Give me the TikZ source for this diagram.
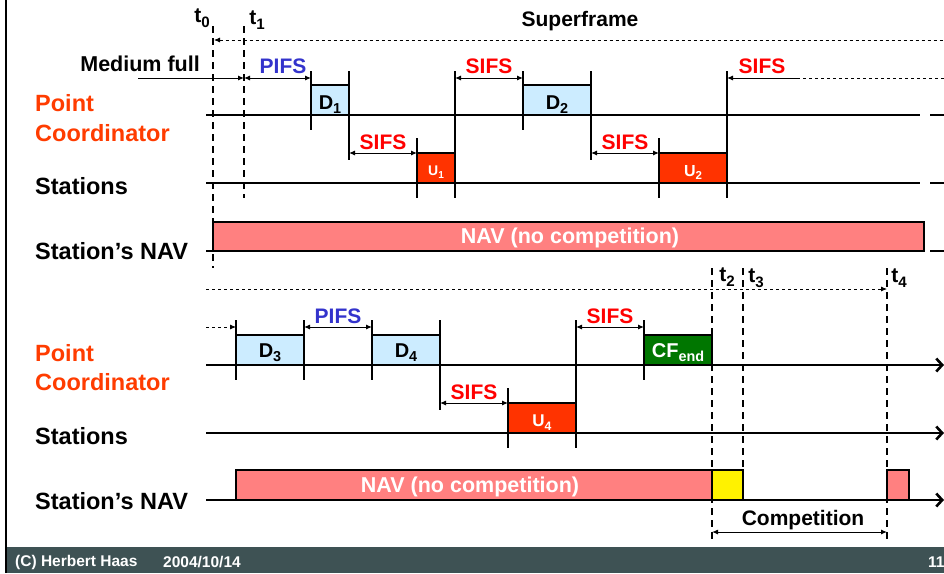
\documentclass[tikz,border=0pt]{standalone}
\usepackage{fontspec}
\setmainfont{Liberation Sans}
\usetikzlibrary{arrows.meta}
\makeatletter
\newcommand\sbx[1]{\raisebox{-0.24em}{\fontsize{\fpeval{0.72*\f@size}}{1}\selectfont #1}}
\makeatother
\definecolor{pcred}{RGB}{255,60,0}
\definecolor{sifsred}{RGB}{255,0,0}
\definecolor{pifsblue}{RGB}{51,51,204}
\definecolor{dbox}{RGB}{204,236,255}
\definecolor{ubox}{RGB}{255,51,0}
\definecolor{navpink}{RGB}{255,128,128}
\definecolor{cfgreen}{RGB}{0,118,0}
\definecolor{footbg}{RGB}{62,82,84}
\tikzset{
  tl/.style={line width=2.8pt},
  tick/.style={line width=1.3pt},
  dim/.style={line width=1pt,{Latex[length=6pt,width=5pt]}-{Latex[length=6pt,width=5pt]}},
  dimr/.style={line width=1pt,-{Latex[length=6pt,width=5pt]}},
  diml/.style={line width=1pt,{Latex[length=6pt,width=5pt]}-},
  vdash/.style={line width=1.7pt,dash pattern=on 7pt off 5pt},
  dotl/.style={line width=0.8pt,dash pattern=on 3pt off 3pt},
  lab/.style={font=\fontsize{23.5}{26}\selectfont\bfseries,anchor=west,inner sep=0pt},
  mlab/.style={font=\fontsize{21}{24}\selectfont\bfseries,inner sep=0pt},
  frame/.style={draw=black,line width=1.4pt,inner sep=0pt,outer sep=0pt,anchor=south west},
  blab/.style={font=\fontsize{20}{24}\selectfont\bfseries,inner sep=0pt,anchor=base},
  foot/.style={font=\fontsize{15.5}{17}\selectfont\bfseries,text=white,anchor=west,inner sep=0pt},
  endarr/.style={tl,-{Straight Barb[length=6pt,width=13pt,line width=2.6pt]}},
}
\begin{document}
\begin{tikzpicture}[x=1pt,y=-1pt]
\useasboundingbox (0,0) rectangle (944,573);
\fill[white] (0,0) rectangle (944,573);
% footer
\fill[footbg] (7,547) rectangle (944,573);
\draw[line width=2pt] (6,0) -- (6,573);
\node[foot] (copy) at (15,562) {(C) Herbert Haas};
\node[foot] (date) at (163,562) {2004/10/14};
\node[foot] (pg) at (928,562) {11};

% ===== TOP SECTION =====
\node[lab,text=pcred] (pc1a) at (35,103) {Point};
\node[lab,text=pcred] (pc1b) at (35,133) {Coordinator};
\node[lab] (st1) at (35,186) {Stations};
\node[lab] (nav1l) at (35,251) {Station’s NAV};

% time marks
\node[mlab] (t0) at (202,18) {t\sbx{0}};
\node[mlab] (t1) at (257,20) {t\sbx{1}};
\node[mlab] (sf) at (580,21) {Superframe};
\coordinate (t0top) at (213,26);
\coordinate (t0bot) at (213,268);
\coordinate (t1top) at (244,26);
\coordinate (t1bot) at (244,198);
\draw[vdash] (t0top) -- (t0bot);
\draw[vdash] (t1top) -- (t1bot);
\coordinate (sfl) at (214,40);
\coordinate (sfr) at (944,40);
\draw[dotl,{Latex[length=6pt,width=5pt]}-] (sfl) -- (sfr);

% medium full / PIFS
\node[font=\fontsize{21.5}{24}\selectfont\bfseries,anchor=east,inner sep=0pt] (mf) at (200,64) {Medium full};
\coordinate (mfs) at (138,78);
\coordinate (pifsA) at (244,78);
\coordinate (pifsB) at (311,78);
\draw[dimr] (mfs) -- (pifsA);
\draw[dim] (pifsA) -- (pifsB);
\node[mlab,text=pifsblue] (pifs1) at (283,66) {PIFS};

% boxes
\node[frame,fill=dbox,minimum width=38pt,minimum height=30pt] (D1) at (311,115) {};
\node[frame,fill=ubox,minimum width=38pt,minimum height=30pt] (U1) at (417,183) {};
\node[frame,fill=dbox,minimum width=68pt,minimum height=30pt] (D2) at (523,115) {};
\node[frame,fill=ubox,minimum width=68pt,minimum height=30pt] (U2) at (659,183) {};

% timelines
\coordinate (pc1s) at (206,115); \coordinate (pc1e) at (920,115);
\coordinate (st1s) at (206,183); \coordinate (st1e) at (920,183);
\draw[tl] (pc1s) -- (pc1e);
\draw[tl] (930,115) -- (944,115);
\draw[tl] (st1s) -- (st1e);
\draw[tl] (930,183) -- (944,183);

% box labels
\node[blab] at ([yshift=6pt]D1.south) {D\sbx{1}};
\node[blab,font=\fontsize{14}{15}\selectfont\bfseries,text=white] at ([yshift=8pt]U1.south) {U\sbx{1}};
\node[blab] at ([yshift=6pt]D2.south) {D\sbx{2}};
\node[blab,font=\fontsize{16}{17}\selectfont\bfseries,text=white] at ([yshift=7pt]U2.south) {U\sbx{2}};

% ticks
\draw[tick] (311,71) -- (311,130);
\draw[tick] (349,71) -- (349,160);
\draw[tick] (417,138) -- (417,198);
\draw[tick] (455,71) -- (455,198);
\draw[tick] (523,71) -- (523,130);
\draw[tick] (591,71) -- (591,160);
\draw[tick] (659,138) -- (659,198);
\draw[tick] (727,71) -- (727,198);

% SIFS
\draw[dim] (349,153) -- (417,153);
\node[mlab,text=sifsred] at (383,142) {SIFS};
\draw[dim] (455,78) -- (523,78);
\node[mlab,text=sifsred] at (489,66) {SIFS};
\draw[dim] (591,153) -- (659,153);
\node[mlab,text=sifsred] at (625,142) {SIFS};
\draw[diml] (727,78) -- (797,78);
\draw[dotl] (797,78) -- (944,78);
\node[mlab,text=sifsred] at (762,66) {SIFS};

% NAV top
\node[frame,fill=navpink,minimum width=711pt,minimum height=29pt] (NAV1) at (213,251) {};
\node[mlab,font=\fontsize{21.5}{24}\selectfont\bfseries,text=white] at (570,238) {NAV (no competition)};
\draw[tl] (206,251) -- (213,251);
\draw[tl] (930,251) -- (944,251);

% ===== BOTTOM SECTION =====
\node[lab,text=pcred] (pc2a) at (35,353) {Point};
\node[lab,text=pcred] (pc2b) at (35,382) {Coordinator};
\node[lab] (st2) at (35,436) {Stations};
\node[lab] (nav2l) at (35,501) {Station’s NAV};

\coordinate (dl) at (206,289);
\coordinate (t4a) at (887,289);
\draw[dotl,-{Latex[length=6pt,width=5pt]}] (dl) -- (t4a);
\node[mlab] (t2) at (727,277) {t\sbx{2}};
\node[mlab] (t3) at (756,278) {t\sbx{3}};
\node[mlab] (t4) at (899,278) {t\sbx{4}};
\draw[vdash] (712,268) -- (712,540);
\draw[vdash] (743,268) -- (743,468);
\draw[vdash] (887,268) -- (887,540);

% incoming arrow
\draw[dotl,-{Latex[length=6pt,width=5pt]}] (206,327) -- (236,327);

\node[frame,fill=dbox,minimum width=68pt,minimum height=30pt] (D3) at (236,365) {};
\node[frame,fill=dbox,minimum width=68pt,minimum height=30pt] (D4) at (372,365) {};
\node[frame,fill=ubox,minimum width=68pt,minimum height=30pt] (U4) at (508,433) {};
\node[frame,fill=cfgreen,minimum width=68pt,minimum height=30pt] (CF) at (644,365) {};

\draw[endarr] (206,365) -- (944,365);
\draw[endarr] (206,433) -- (944,433);

\node[blab] at ([yshift=8pt]D3.south) {D\sbx{3}};
\node[blab] at ([yshift=8pt]D4.south) {D\sbx{4}};
\node[blab,font=\fontsize{17}{18}\selectfont\bfseries,text=white] at ([yshift=7pt]U4.south) {U\sbx{4}};
\node[blab,text=white] at ([yshift=8pt]CF.south) {CF\sbx{end}};

\draw[tick] (236,320) -- (236,380);
\draw[tick] (304,320) -- (304,380);
\draw[tick] (372,320) -- (372,380);
\draw[tick] (440,320) -- (440,410);
\draw[tick] (508,388) -- (508,448);
\draw[tick] (576,320) -- (576,448);
\draw[tick] (644,320) -- (644,380);

\draw[dim] (304,327) -- (372,327);
\node[mlab,text=pifsblue] at (338,316) {PIFS};
\draw[dim] (440,403) -- (508,403);
\node[mlab,text=sifsred] at (474,392) {SIFS};
\draw[dim] (576,327) -- (644,327);
\node[mlab,text=sifsred] at (610,316) {SIFS};

% NAV bottom
\node[frame,fill=navpink,minimum width=476pt,minimum height=30pt] (NAV2) at (236,500) {};
\node[mlab,font=\fontsize{21.5}{24}\selectfont\bfseries,text=white] at (470,487) {NAV (no competition)};
\node[frame,fill=yellow,minimum width=31pt,minimum height=30pt] (Y) at (712,500) {};
\node[frame,fill=navpink,minimum width=22pt,minimum height=30pt] (P2) at (887,500) {};
\draw[endarr] (206,500) -- (944,500);

\draw[dim] (712,532) -- (887,532);
\node[mlab] (comp) at (803,520) {Competition};
\end{tikzpicture}
\end{document}
